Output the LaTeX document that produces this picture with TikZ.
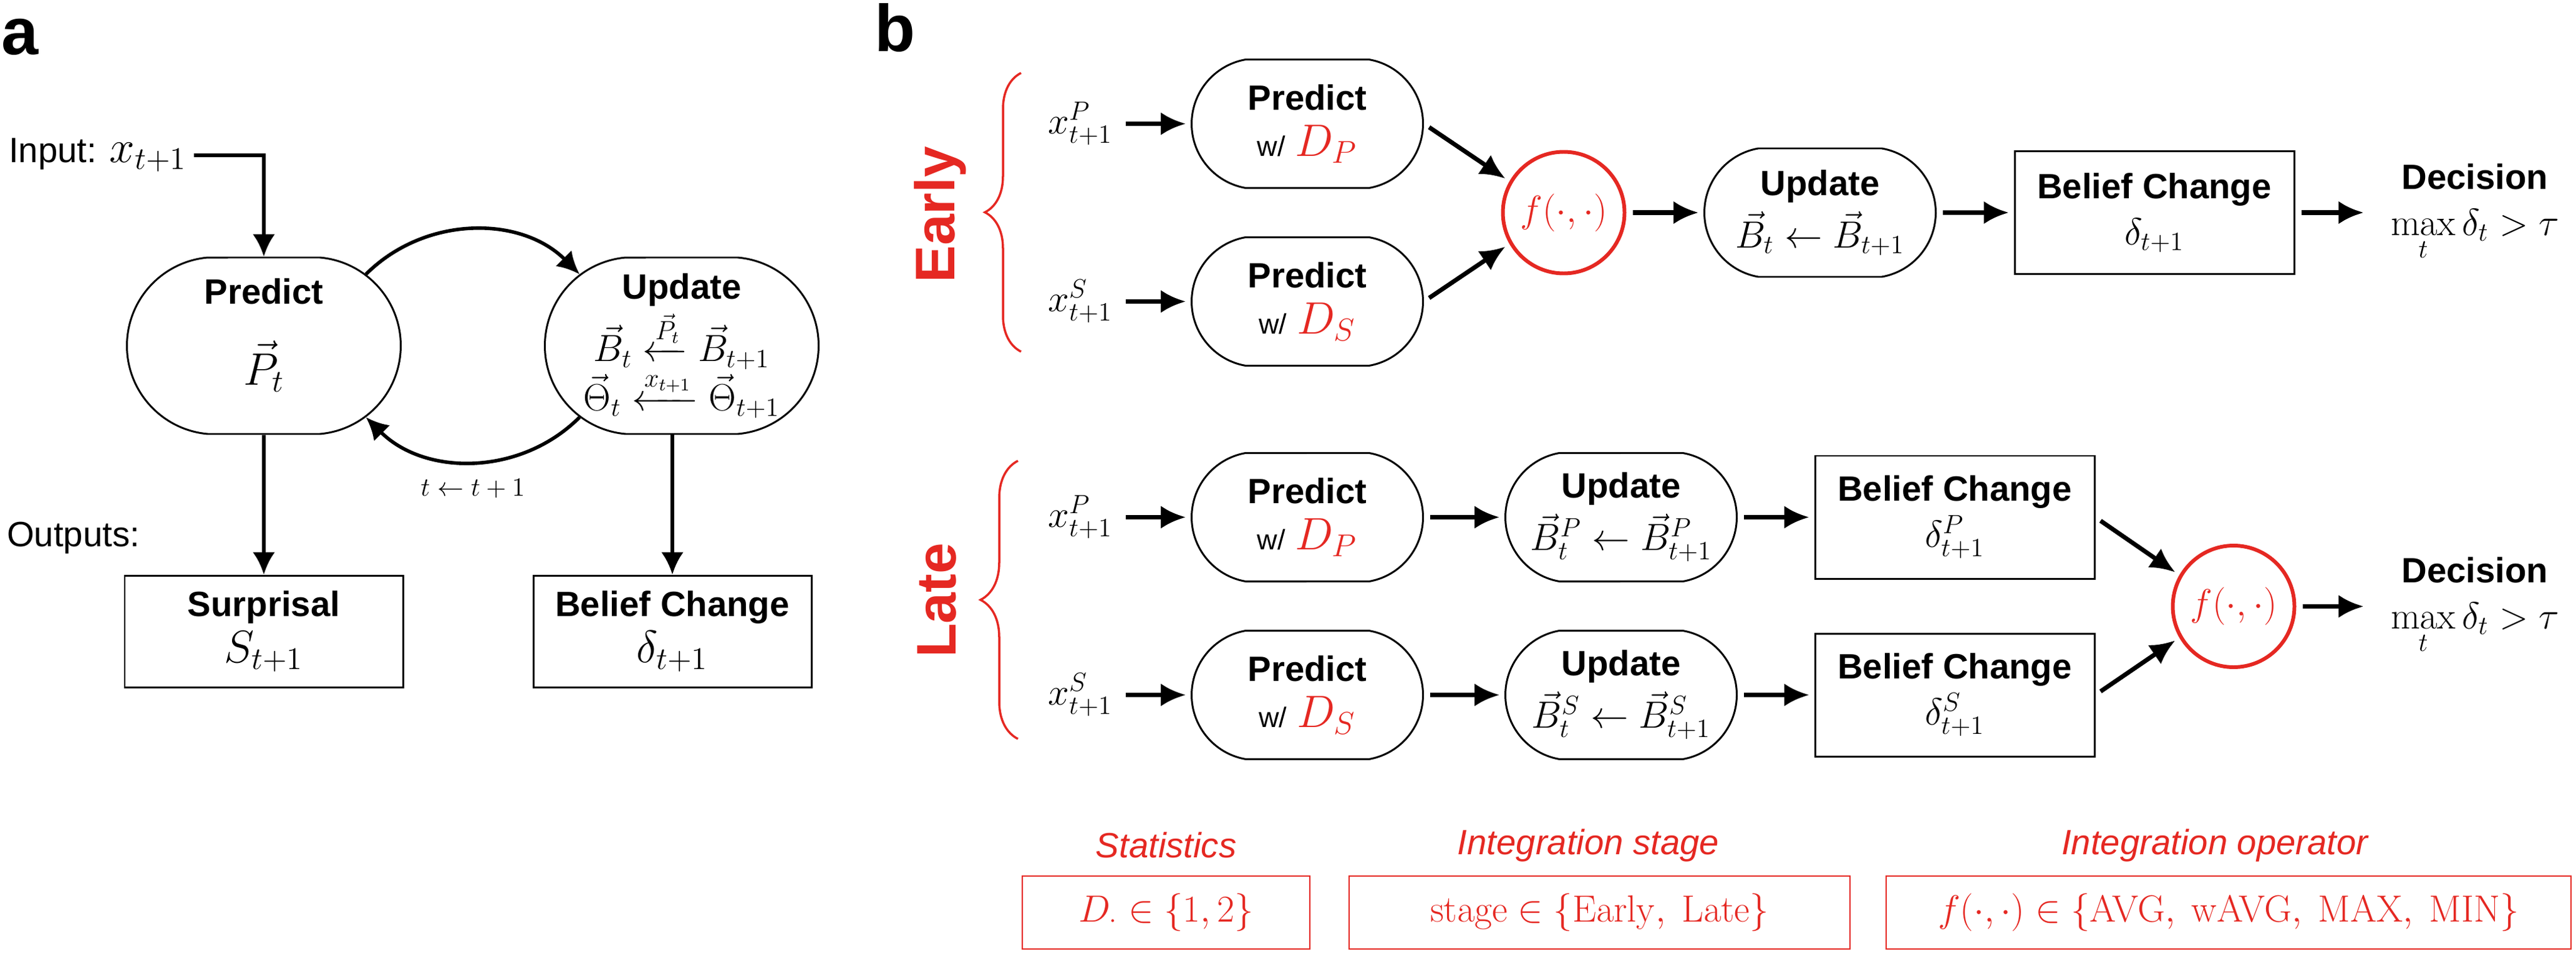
\documentclass[tikz,border=0pt]{standalone}
\usepackage[no-math]{fontspec}
\setmainfont{Liberation Sans}[Scale=0.89]
\usepackage{amsmath}
\usetikzlibrary{arrows.meta,shapes.misc,decorations.pathreplacing}
\definecolor{hlred}{RGB}{229,40,34}
\newcommand{\basefont}{\fontsize{18}{21}\selectfont}
\newcommand{\amath}[1]{{\fontsize{20}{22}\selectfont$#1$}}
\newcommand{\wsmall}{{\fontsize{14.4}{16}\selectfont w/}}

\begin{document}
\begin{tikzpicture}[node distance=2.85cm, font=\basefont,
    proc/.style={rounded rectangle, rounded rectangle arc length=160, draw, line width=0.85pt,
        minimum width=3.78cm, minimum height=2.06cm, align=center, inner sep=1pt},
    outbox/.style={rectangle, draw, line width=0.85pt, minimum width=4.48cm, minimum height=1.97cm, align=center},
    fuse/.style={circle, draw=hlred, line width=1.7pt, minimum size=1.95cm, inner sep=0pt, text=hlred},
    thickarr/.style={-{Latex[length=0.4cm, width=0.37cm]}, line width=2pt, shorten <=0.1cm, shorten >=0.08cm},
    cycarr/.style={-{Latex[length=0.36cm, width=0.36cm]}, line width=1.6pt},
    setbox/.style={rectangle, draw=hlred, line width=0.6pt, minimum height=1.17cm, text=hlred},
    bigtag/.style={font=\fontsize{28.6}{30}\selectfont\bfseries, text=hlred, rotate=90},
    settag/.style={font=\basefont\itshape, text=hlred},
    panel/.style={anchor=base west, inner sep=0pt, font=\fontsize{34}{34}\selectfont\bfseries}
    ]
    \useasboundingbox (0,0) rectangle (41.3,-15.3);

    % Panel a: one stream
    \node [panel] (laba) at (0.02,-0.88) {a};
    \node [proc, minimum width=4.46cm, minimum height=2.83cm, rounded rectangle arc length=170] (pa) at (4.23,-5.545)
        {\textbf{Predict}\\[16pt]\amath{\vec{P}_t}\rule[-13pt]{0pt}{1pt}};
    \node [proc, minimum width=4.46cm, minimum height=2.83cm, rounded rectangle arc length=170, right of=pa, node distance=6.7cm] (ua)
        {\textbf{Update}\\[1pt]
         {\fontsize{16.5}{18}\selectfont$\vec{B}_t \xleftarrow{\vec{P}_t} \vec{B}_{t+1}$}\\[0pt]
         {\fontsize{16.5}{18}\selectfont$\vec{\Theta}_t \xleftarrow{x_{t+1}} \vec{\Theta}_{t+1}$}};
    \node [outbox, below of=pa, node distance=4.58cm, minimum width=4.46cm, minimum height=1.79cm] (sur) {\textbf{Surprisal}\\\amath{S_{t+1}}};
    \node [outbox, below of=ua, node distance=4.58cm, xshift=-0.15cm, minimum width=4.46cm, minimum height=1.79cm] (bca) {\textbf{Belief Change}\\\amath{\delta_{t+1}}};
    \node [anchor=west] (inp) at (0.03,-2.49) {Input: \amath{x_{t+1}}};
    \node [anchor=west] (outs) at (0,-8.63) {Outputs:};

    \draw [cycarr] (inp.east) -| (pa.north);
    \draw [cycarr] (pa.35) to [bend left=45] (ua.145);
    \draw [cycarr] (ua.-145) to [bend left=45] node [below=0.15cm, font=\fontsize{13}{14}\selectfont] (tick) {$t \leftarrow t+1$} (pa.-35);
    \draw [cycarr] (pa) -- (sur);
    \draw [cycarr] (ua.south -| bca.north) -- (bca.north);

    % Panel b: two streams
    \node [panel] (labb) at (14.02,-0.83) {b};

    % early integration
    \node [proc] (ep) at (20.96,-1.985) {\textbf{Predict}\\\wsmall\ \textcolor{hlred}{\amath{D_P}}};
    \node [proc, below of=ep] (es) {\textbf{Predict}\\\wsmall\ \textcolor{hlred}{\amath{D_S}}};
    \node [left of=ep, node distance=3.64cm] (exp) {$x^P_{t+1}$};
    \node [left of=es, node distance=3.64cm] (exs) {$x^S_{t+1}$};
    \node [fuse, right of=ep, node distance=4.11cm, yshift=-1.425cm] (ef) {$f(\cdot,\cdot)$};
    \node [proc, right of=ef, node distance=4.11cm] (eu) {\textbf{Update}\\[3pt]$\vec{B}_t \leftarrow \vec{B}_{t+1}$};
    \node [outbox, right of=eu, node distance=5.36cm] (eb) {\textbf{Belief Change}\\$\delta_{t+1}$};
    \node [align=center, inner xsep=0.35cm, right of=eb, node distance=5.14cm] (ed) {\textbf{Decision}\\$\max\limits_t \delta_t > \tau$};

    \draw [thickarr] (exp) -- (ep);
    \draw [thickarr] (exs) -- (es);
    \draw [thickarr] (ep.east) -- (ef.150);
    \draw [thickarr] (es.east) -- (ef.-150);
    \draw [thickarr] (ef) -- (eu);
    \draw [thickarr] (eu) -- (eb);
    \draw [thickarr] (eb) -- (ed);

    % late integration
    \node [proc, below of=es, node distance=3.46cm] (lp) {\textbf{Predict}\\\wsmall\ \textcolor{hlred}{\amath{D_P}}};
    \node [proc, below of=lp] (ls) {\textbf{Predict}\\\wsmall\ \textcolor{hlred}{\amath{D_S}}};
    \node [left of=lp, node distance=3.64cm] (lxp) {$x^P_{t+1}$};
    \node [left of=ls, node distance=3.64cm] (lxs) {$x^S_{t+1}$};
    \node [proc, right of=lp, node distance=5.03cm] (lup) {\textbf{Update}\\[3pt]$\vec{B}^P_t \leftarrow \vec{B}^P_{t+1}$};
    \node [proc, right of=ls, node distance=5.03cm] (lus) {\textbf{Update}\\[3pt]$\vec{B}^S_t \leftarrow \vec{B}^S_{t+1}$};
    \node [outbox, right of=lup, node distance=5.35cm] (lbp) {\textbf{Belief Change}\\$\delta^P_{t+1}$};
    \node [outbox, right of=lus, node distance=5.35cm] (lbs) {\textbf{Belief Change}\\$\delta^S_{t+1}$};
    \node [fuse, right of=lbp, node distance=4.47cm, yshift=-1.43cm] (lf) {$f(\cdot,\cdot)$};
    \node [align=center, inner xsep=0.35cm, right of=lf, node distance=3.87cm] (ld) {\textbf{Decision}\\$\max\limits_t \delta_t > \tau$};

    \draw [thickarr] (lxp) -- (lp);
    \draw [thickarr] (lxs) -- (ls);
    \draw [thickarr] (lp) -- (lup);
    \draw [thickarr] (ls) -- (lus);
    \draw [thickarr] (lup) -- (lbp);
    \draw [thickarr] (lus) -- (lbs);
    \draw [thickarr] (lbp.east) -- (lf.150);
    \draw [thickarr] (lbs.east) -- (lf.-150);
    \draw [thickarr] (lf) -- (ld);

    % stage braces
    \node [bigtag] (early) at (15.07,-3.44) {Early};
    \node [bigtag] (late) at (15.02,-9.63) {Late};
    \draw [decorate, decoration={brace, amplitude=0.58cm}, draw=hlred, line width=1pt] (16.37,-5.64) -- (16.37,-1.17);
    \draw [decorate, decoration={brace, amplitude=0.6cm}, draw=hlred, line width=1pt] (16.32,-11.85) -- (16.32,-7.39);

    % design choices
    \node [setbox, minimum width=4.61cm] (dset) at (18.695,-14.635) {$D_{\cdot} \in \{1,2\}$};
    \node [setbox, minimum width=8.03cm] (sset) at (25.645,-14.635) {$\mathrm{stage} \in \{\mathrm{Early},\ \mathrm{Late}\}$};
    \node [setbox, minimum width=10.98cm] (oset) at (35.73,-14.635) {$f(\cdot,\cdot) \in \{\mathrm{AVG},\ \mathrm{wAVG},\ \mathrm{MAX},\ \mathrm{MIN}\}$};
    \node [settag, above of=dset, node distance=1.08cm] (dtag) {Statistics};
    \node [settag, above of=sset, node distance=1.08cm, xshift=-0.18cm] (stag) {Integration stage};
    \node [settag, above of=oset, node distance=1.08cm, xshift=-0.22cm] (otag) {Integration operator};
\end{tikzpicture}
\end{document}
